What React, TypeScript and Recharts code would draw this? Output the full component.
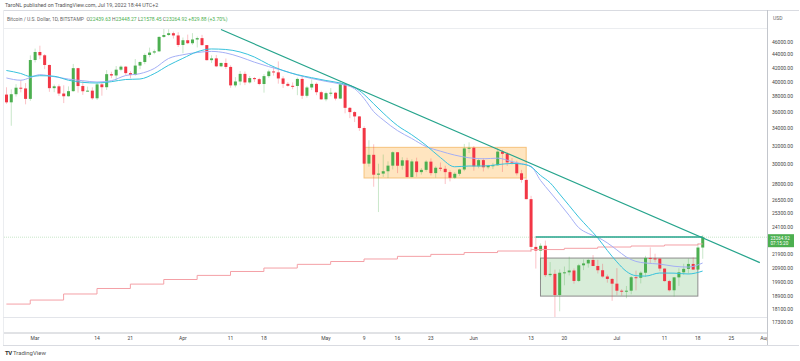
import React from "react";
import { Bar, ComposedChart, Line, ReferenceArea, ReferenceLine, XAxis, YAxis } from "recharts";

// BTC/USD daily, BITSTAMP, Feb 23 2022 .. Jul 19 2022
const START_DATE = "2022-02-23";
const SLOTS = 160; // axis runs on to Aug 1

const OPENS = [
  38280, 37260, 38330, 39210, 39110, 37710,
  43190, 44420, 43910, 42450, 39150, 39400, 38420, 38060, 38740, 41980, 39440, 38730, 38810, 37790, 39670, 39280,
  41110, 40920, 41760, 42200, 41260, 41000, 42360, 42890, 43960, 44330, 44520, 46820, 47130, 47430, 47060,
  45520, 46280, 45800, 46400, 46620, 45500, 43170, 43440, 42250, 42750, 42160, 39530, 40070, 41150, 39940,
  40550, 40400, 39720, 40830, 41500, 41370, 40500, 39740, 39470, 39450, 40430, 38120, 39240, 39740, 38600,
  37650, 38470, 38530, 37750, 39690, 36550, 36010, 35470, 34060, 30080, 31020, 28940, 29050, 29290, 29870,
  31300, 29860, 30430, 28700, 30310, 29200, 29430, 30290, 29100, 29650, 29540, 29200, 28630, 29030, 29470, 31720,
  31790, 29800, 30450, 29700, 29860, 29910, 31370, 31130, 30210, 30110, 29080, 28420, 26570, 22490, 22200,
  22580, 20380, 20470, 19010, 20550, 20580, 20710, 19970, 21090, 21230, 21490, 21040, 20730, 20280, 20110,
  19780, 19300, 19250, 19300, 20230, 20190, 20550, 21640, 21600, 21590, 20850, 19960, 19330, 20220, 20580,
  20830, 21190, 20780, 22439.63,
];
const HIGHS = [
  39270, 38980, 39700, 40280, 39850, 43900,
  44950, 45400, 44100, 42500, 39650, 39660, 39540, 39390, 42600, 42030, 40230, 39360, 39270, 39940, 39870,
  41700, 41460, 42300, 42380, 42300, 41540, 43340, 43000, 44210, 45100, 44800, 46930, 48190, 48100, 47700, 47600,
  46720, 47200, 47440, 46880, 47150, 45520, 43900, 43960, 42800, 43420, 42400, 40690, 41560, 41490, 40850,
  40700, 40600, 41120, 41760, 42200, 42980, 40810, 39990, 39940, 40620, 40800, 39460, 40380, 39930, 38800,
  38670, 39160, 38640, 39980, 39840, 36650, 36120, 35500, 34260, 32640, 32180, 30070, 31050, 30320, 31400,
  31320, 30760, 30700, 30530, 30710, 29620, 30440, 30630, 29800, 30200, 29860, 29380, 29200, 29550, 32220, 32400,
  31980, 30650, 30670, 29950, 30160, 31760, 31560, 31320, 30680, 30380, 29430, 28560, 26880, 23340, 22770,
  22990, 21330, 20770, 20790, 21000, 21730, 20860, 21200, 21530, 21580, 21860, 21500, 21200, 20420, 20160,
  20880, 19400, 19620, 20330, 20700, 20650, 21800, 22450, 21960, 21600, 20860, 20050, 20250, 20870, 21200,
  21600, 21680, 22780, 23448.27,
];
const LOWS = [
  37070, 34330, 38010, 38580, 37000, 37450,
  42830, 43330, 41840, 38650, 38600, 38100, 37160, 38010, 38660, 38540, 38240, 38680, 37600, 37570, 38130,
  38900, 40530, 40160, 41530, 40920, 40520, 40900, 41830, 42570, 43600, 44080, 44420, 46680, 46990, 46550, 45200,
  44230, 45660, 45550, 45130, 45400, 43130, 42750, 42130, 42130, 41870, 39200, 39260, 39560, 39570, 39770,
  40020, 39550, 38540, 40580, 40900, 39770, 39180, 39340, 39000, 38200, 37710, 37880, 38890, 38200, 37600,
  37400, 38050, 37510, 37680, 35860, 35260, 34780, 33720, 30030, 29760, 27750, 25400, 28710, 28600, 29480,
  29100, 29450, 28680, 28680, 28730, 28950, 29240, 28860, 28640, 29300, 28010, 28270, 28500, 28830, 29300, 31210,
  29340, 29590, 29270, 29500, 29510, 29880, 29220, 29840, 29990, 28870, 28140, 26560, 22090, 20850, 20080,
  20250, 20250, 17600, 17960, 19670, 20360, 19780, 19890, 20740, 20920, 21030, 20500, 20200, 19850, 18630,
  19000, 18980, 18800, 19060, 19320, 19800, 20260, 21220, 21320, 20660, 19920, 19250, 18910, 19630, 20400,
  20480, 20760, 20760, 21578.45,
];
const CLOSES = [
  37260, 38330, 39210, 39110, 37710, 43190,
  44420, 43910, 42450, 39150, 39400, 38420, 38060, 38740, 41980, 39440, 38730, 38810, 37790, 39670, 39280,
  41110, 40920, 41760, 42200, 41260, 41000, 42360, 42890, 43960, 44330, 44520, 46820, 47130, 47430, 47060, 45520,
  46280, 45800, 46400, 46620, 45500, 43170, 43440, 42250, 42750, 42160, 39530, 40070, 41150, 39940, 40550,
  40400, 39720, 40830, 41500, 41370, 40500, 39740, 39470, 39450, 40430, 38120, 39240, 39740, 38600, 37650,
  38470, 38530, 37750, 39690, 36550, 36010, 35470, 34060, 30080, 31020, 28940, 29050, 29290, 29870, 31300,
  29860, 30430, 28700, 30310, 29200, 29430, 30290, 29100, 29650, 29540, 29200, 28630, 29030, 29470, 31720, 31790,
  29800, 30450, 29700, 29860, 29910, 31370, 31130, 30210, 30110, 29080, 28420, 26570, 22490, 22200, 22580,
  20380, 20470, 19010, 20550, 20580, 20710, 19970, 21090, 21230, 21490, 21040, 20730, 20280, 20110, 19780,
  19300, 19250, 19300, 20230, 20190, 20550, 21640, 21600, 21590, 20850, 19960, 19330, 20220, 20580, 20830,
  21190, 20780, 22440, 23264.92,
];

// moving averages (day index -> price)
const MA_DAYS = [
  0, 3, 5, 7, 10, 13, 16, 19, 22, 25, 28, 31, 34, 37, 40, 43, 46, 49, 52, 55, 58, 61, 64, 67, 70, 73, 75, 77,
  79, 82, 85, 88, 91, 94, 97, 100, 103, 106, 108, 110, 112, 114, 116, 118, 120, 122, 124, 126, 128, 130, 132,
  134, 137, 140, 143, 146,
];
const MA_CYAN = [
  41640, 41210, 40780, 40890, 40810, 40250, 39950, 39860, 40040, 40350, 40420, 41180, 42400, 43440, 44450,
  44890, 44810, 44420, 43650, 42520, 41640, 41040, 40610, 40210, 39860, 39250, 38310, 37080, 35900, 34360,
  33270, 32070, 30730, 29750, 29830, 29830, 29970, 30100, 30040, 29750, 28870, 28140, 27050, 25990, 24960,
  24070, 23210, 22220, 21350, 20650, 20340, 20310, 20530, 20520, 20460, 20670,
];
const MA_BLUE = [
  40570, 40250, 40610, 41040, 40750, 40410, 40180, 40000, 40180, 40910, 41180, 41930, 43420, 43990, 44340,
  44510, 44270, 43650, 42870, 42210, 41640, 40990, 40490, 40090, 39720, 39080, 37760, 36090, 35050, 33760,
  32840, 31930, 31420, 30990, 30700, 30590, 30660, 30300, 30070, 29800, 28370, 27240, 26170, 25110, 24060,
  23570, 23260, 22810, 22260, 21710, 21380, 21260, 21180, 21020, 20960, 21260,
];
// weekly MA (steps each Monday)
const WK_DAYS = [0, 5, 12, 19, 26, 33, 40, 47, 54, 61, 68, 75, 82, 89, 96, 103, 110, 117, 124, 131, 138, 145, 146];
const WK_MA = [
  18420, 18680, 19080, 19450, 19750, 20070, 20360, 20640, 20890, 21160, 21370, 21560, 21760, 21910, 22050,
  22170, 22280, 22380, 22480, 22560, 22640, 22720, 22720,
];

const Y_TICKS = [
  46000, 44000, 42000, 40000, 38000, 36000, 34000, 32000, 30000, 28000, 26500, 25300, 24100, 21900, 20900,
  19900, 18900, 18100, 17300,
];
const TICK_DATES = [
  "2022-03-01", "2022-03-14", "2022-03-21", "2022-04-01", "2022-04-11", "2022-04-18", "2022-05-01", "2022-05-09",
  "2022-05-16", "2022-05-23", "2022-06-01", "2022-06-13", "2022-06-20", "2022-07-01", "2022-07-11", "2022-07-18",
  "2022-07-25", "2022-08-01",
];
const TICK_LABELS = ["Mar", "14", "21", "Apr", "11", "18", "May", "9", "16", "23", "Jun", "13", "20", "Jul", "11", "18", "25", "Aug"];

const LAST_CLOSE = 23264.92;

const UP = "#4caf50";
const DOWN = "#f23645";
const FONT = "Roboto, 'Open Sans', sans-serif";

function dayKey(i: number) {
  const t = new Date(START_DATE + "T00:00:00Z").getTime() + i * 86400000;
  return new Date(t).toISOString().slice(0, 10);
}

const rows = Array.from({ length: SLOTS }, (_, i) => {
  const has = i < CLOSES.length;
  const m = MA_DAYS.indexOf(i);
  const w = WK_DAYS.indexOf(i);
  return {
    d: dayKey(i),
    range: has ? [LOWS[i], HIGHS[i]] : null,
    o: has ? OPENS[i] : null,
    h: has ? HIGHS[i] : null,
    l: has ? LOWS[i] : null,
    c: has ? CLOSES[i] : null,
    cyan: m >= 0 ? MA_CYAN[m] : null,
    blue: m >= 0 ? MA_BLUE[m] : null,
    wk: w >= 0 ? WK_MA[w] : null,
  };
});

function Candle(props: any) {
  const { x, y, width, height, payload } = props;
  if (!payload || payload.o == null) return <g />;
  const top = Math.min(y, y + height);
  const bottom = Math.max(y, y + height);
  const { o, h, l, c } = payload;
  const span = Math.log(h) - Math.log(l);
  // y scale is logarithmic: place open/close between the high and low pixels
  const at = (v: number) => (span > 0 ? top + ((bottom - top) * (Math.log(h) - Math.log(v))) / span : top);
  const color = c >= o ? UP : DOWN;
  const yo = at(o);
  const yc = at(c);
  const cx = x + width / 2;
  return (
    <g>
      <line x1={cx} x2={cx} y1={top} y2={bottom} stroke={color} strokeOpacity={0.3} strokeWidth={1} />
      <rect x={x} y={Math.min(yo, yc)} width={width} height={Math.max(1, Math.abs(yc - yo))} fill={color} />
    </g>
  );
}

function PriceTick({ x, y, payload }: any) {
  return (
    <text x={x} y={y} dy="0.35em" fontSize={5} fill="#444" fontFamily={FONT} textAnchor="start">
      {Number(payload.value).toFixed(2)}
    </text>
  );
}

function TimeTick({ x, y, payload }: any) {
  const k = TICK_DATES.indexOf(payload.value);
  if (k < 0) return <g />;
  return (
    <text x={x} y={y} dy="0.71em" fontSize={5} fill="#444" fontFamily={FONT} textAnchor="middle">
      {TICK_LABELS[k]}
    </text>
  );
}

function PriceBadge({ viewBox }: any) {
  const x = viewBox.x + viewBox.width + 1;
  const y = viewBox.y;
  return (
    <g fontFamily={FONT} fontSize={4.6} fill="#fff">
      <rect x={x} y={y - 3} width={26} height={13} fill={UP} />
      <text x={x + 2.5} y={y + 2.6}>{LAST_CLOSE.toFixed(2)}</text>
      <text x={x + 2.5} y={y + 8.2}>07:15:20</text>
    </g>
  );
}

// drawn boxes are anchored on bar centres, so trim half a band off each side
function boxShape(n: number, fill: string, stroke: string) {
  return (p: any) => {
    const bw = p.width / n;
    return <rect x={p.x + bw / 2} y={p.y} width={p.width - bw} height={p.height} fill={fill} stroke={stroke} strokeWidth={1} />;
  };
}

const line = (s: React.CSSProperties) => ({ position: "absolute" as const, background: "#d9dbe1", ...s });

export default function App() {
  return (
    <div style={{ position: "absolute", left: 0, top: 0, width: 800, height: 361, background: "#fff", overflow: "hidden", fontFamily: FONT }}>
      <ComposedChart width={800} height={361} data={rows} margin={{ top: 28, right: 0, bottom: 16, left: 4 }}>
        <XAxis
          dataKey="d"
          interval={0}
          height={12}
          tickLine={false}
          tickSize={0}
          tickMargin={3}
          axisLine={{ stroke: "#c3c6cc" }}
          tick={<TimeTick />}
        />
        <YAxis
          type="number"
          scale="log"
          orientation="right"
          domain={[16650, 48300]}
          allowDataOverflow
          ticks={Y_TICKS}
          interval={0}
          width={33}
          axisLine={false}
          tickLine={false}
          tickSize={0}
          tickMargin={5}
          tick={<PriceTick />}
        />
        <ReferenceLine y={LAST_CLOSE} stroke={UP} strokeOpacity={0.3} strokeDasharray="1 1" label={<PriceBadge />} />
        <Line dataKey="wk" type="stepAfter" connectNulls dot={false} stroke="#f4a0a6" strokeWidth={1} isAnimationActive={false} />
        <Line dataKey="blue" type="monotone" connectNulls dot={false} stroke="#a4aff5" strokeWidth={1} isAnimationActive={false} />
        <Line dataKey="cyan" type="monotone" connectNulls dot={false} stroke="#38c2dc" strokeWidth={1} isAnimationActive={false} />
        <Bar dataKey="range" barSize={3} shape={Candle} isAnimationActive={false} />
        <ReferenceArea
          x1={dayKey(75)}
          x2={dayKey(109)}
          y1={28610}
          y2={31840}
          shape={boxShape(35, "rgba(255,160,30,0.28)", "#f6c27c")}
        />
        <ReferenceArea
          x1={dayKey(112)}
          x2={dayKey(145)}
          y1={18940}
          y2={21630}
          shape={boxShape(34, "rgba(76,175,80,0.22)", "#8d8d8d")}
        />
        <ReferenceLine
          segment={[{ x: dayKey(45), y: 48040 }, { x: dayKey(158), y: 21290 }]}
          stroke="#26a48c"
          strokeWidth={1.2}
        />
        <ReferenceLine
          segment={[{ x: dayKey(111), y: 23280 }, { x: dayKey(146), y: 23280 }]}
          stroke="#26a48c"
          strokeWidth={1.4}
        />
      </ComposedChart>

      {/* frame; the price-axis strip hides the time label that runs under it */}
      <div style={{ position: "absolute", left: 768, top: 334, width: 32, height: 11, background: "#fff" }} />
      <div style={line({ left: 3, top: 10, width: 796, height: 1 })} />
      <div style={line({ left: 3, top: 28, width: 764, height: 1, background: "#ebedf0" })} />
      <div style={line({ left: 3, top: 10, width: 1, height: 335, background: "#ebedf0" })} />
      <div style={line({ left: 767, top: 10, width: 1, height: 335, background: "#c3c6cc" })} />
      <div style={line({ left: 3, top: 317, width: 764, height: 1, background: "#e3e5ea" })} />
      <div style={line({ left: 3, top: 345, width: 796, height: 1 })} />

      <div style={{ position: "absolute", left: 5, top: 2, fontSize: 5.3, color: "#555", whiteSpace: "nowrap" }}>
        TaroNL published on TradingView.com, Jul 19, 2022 18:44 UTC+2
      </div>
      <div style={{ position: "absolute", left: 7, top: 15.5, fontSize: 5, color: "#666", whiteSpace: "nowrap" }}>
        Bitcoin / U.S. Dollar, 1D, BITSTAMP&nbsp;&nbsp;O<span style={{ color: UP }}>22439.63</span> H
        <span style={{ color: UP }}>23448.27</span> L<span style={{ color: UP }}>21578.45</span> C
        <span style={{ color: UP }}>23264.92</span> <span style={{ color: UP }}>+829.88 (+3.70%)</span>
      </div>
      <div style={{ position: "absolute", left: 773, top: 15, fontSize: 5, color: "#666" }}>USD</div>
      <div style={{ position: "absolute", left: 5, top: 348.5, fontSize: 6, color: "#333", whiteSpace: "nowrap" }}>
        <b style={{ letterSpacing: -0.6 }}>TV</b> <span style={{ color: "#555" }}>TradingView</span>
      </div>
    </div>
  );
}
